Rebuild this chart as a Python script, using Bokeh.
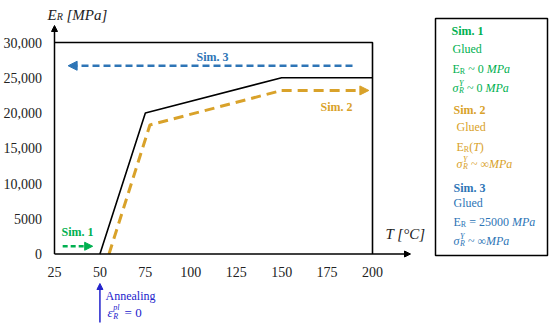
from bokeh.plotting import figure
from bokeh.models import Range1d, Arrow, NormalHead
from bokeh.embed import file_html
from bokeh.resources import INLINE
from bokeh.core.properties import value

# ---------------- data ----------------
x_ticks = [25, 50, 75, 100, 125, 150, 175, 200]
y_ticks = [0, 5000, 10000, 15000, 20000, 25000, 30000]
y_tick_labels = ["0", "5000", "10,000", "15,000", "20,000", "25,000", "30,000"]

ref_T = [50, 75, 150, 200]          # black solid E_R(T)
ref_E = [0, 20000, 25000, 25000]
box_T = [25, 200, 200]              # upper/right frame
box_E = [30000, 30000, 0]

sim2_T = [55, 77.5, 150]            # orange dashed
sim2_E = [0, 18300, 23200]
sim2_end_T = 198

sim3_T = [189, 32.5]                # blue dashed arrow (start, tip)
sim3_E = 26700
sim1_T = [29.5, 46]                 # green dashed arrow (start, tip)
sim1_E = 1100
anneal_T = 50

GREEN = "#00B050"
ORANGE = "#D9A22A"
BLUE = "#2E75B6"
ANNEAL = "#2323CC"
FONT = "Liberation Serif"

# ---------------- page-pixel -> data helpers (layout only) ----------------
SX = 318.0 / 175.0
SY = 211.5 / 30000.0
def DX(px):
    return 25 + (px - 54) / SX
def DY(py):
    return (253.5 - py) / SY

W, H = 550, 324
OX, OY = 0, 0
p = figure(width=W, height=H, x_range=Range1d(DX(OX), DX(OX + W)),
           y_range=Range1d(DY(OY + H), DY(OY)), output_backend="svg",
           toolbar_location=None, min_border=0, x_axis_type=None, y_axis_type=None)
p.outline_line_color = None
p.background_fill_color = "white"

# Times metrics (em)
W_REG = {' ': .25, '(': .333, ')': .333, ',': .25, '.': .25, '=': .564, '~': .541,
         'A': .722, 'C': .667, 'E': .611, 'G': .722, 'M': .889, 'P': .556, 'R': .667,
         'S': .556, 'T': .611, 'Y': .722, 'a': .444, 'd': .5, 'e': .444, 'g': .5,
         'i': .278, 'l': .278, 'm': .778, 'n': .5, 'p': .5, 'u': .5, '[': .333,
         ']': .333, '°': .4, '∞': .713, 'σ': .6, 'ε': .44}
W_IT = {'M': .833, 'P': .611, 'a': .5, 'T': .556, 'R': .611, 'Y': .556, '[': .389,
        ']': .389, 'σ': .55}
W_BOLD = {'S': .556, 'i': .278, 'm': .833}

def tw(s, size, style):
    extra = W_IT if style == "italic" else (W_BOLD if style == "bold" else {})
    return sum(extra.get(c, W_REG.get(c, .5)) for c in s) * size

def rich(x0, yc, segs, color):
    x = x0
    for seg in segs:
        txt, size, style = seg[0], seg[1], seg[2]
        dy = seg[3] if len(seg) > 3 else 0
        adv = seg[4] if len(seg) > 4 else True
        stripped = txt.lstrip(' ')
        lead = tw(txt[:len(txt) - len(stripped)], size, style)
        p.text(x=[DX(x + lead)], y=[DY(yc + dy)], text=[stripped.rstrip(' ')],
               text_font=value(FONT), text_font_size=f"{size}px",
               text_font_style=style, text_color=color,
               text_align="left", text_baseline="middle")
        if adv:
            x += tw(txt, size, style)

# ---------------- axes ----------------
p.add_layout(Arrow(end=NormalHead(size=6, fill_color="black", line_color="black"),
                   x_start=25, y_start=0, x_end=25, y_end=DY(25),
                   line_color="black", line_width=1.5))
p.add_layout(Arrow(end=NormalHead(size=6, fill_color="black", line_color="black"),
                   x_start=25, y_start=0, x_end=DX(410), y_end=0,
                   line_color="black", line_width=1.5))
p.text(x=x_ticks, y=[DY(271)] * len(x_ticks), text=[str(t) for t in x_ticks],
       text_font=value(FONT), text_font_size="14px", text_color="#222222",
       text_align="center", text_baseline="middle")
p.text(x=[DX(41.5)] * len(y_ticks), y=y_ticks, text=y_tick_labels,
       text_font=value(FONT), text_font_size="14px", text_color="#222222",
       text_align="right", text_baseline="middle")

rich(47, 14, [("E", 15, "italic"), ("R", 10, "italic", 2), (" [MPa]", 15, "italic")], "#222222")
rich(385, 233, [("T [°C]", 15, "italic")], "#222222")

# ---------------- curves ----------------
p.line(box_T, box_E, line_color="black", line_width=1.6)
p.line(ref_T, ref_E, line_color="black", line_width=1.6)

p.line(sim2_T, sim2_E, line_color=ORANGE, line_width=3, line_dash="10 6")
p.add_layout(Arrow(end=NormalHead(size=9, fill_color=ORANGE, line_color=ORANGE),
                   x_start=sim2_T[-1], y_start=sim2_E[-1], x_end=sim2_end_T, y_end=sim2_E[-1],
                   line_color=ORANGE, line_width=3, line_dash="10 6"))
p.add_layout(Arrow(end=NormalHead(size=9, fill_color=BLUE, line_color=BLUE),
                   x_start=sim3_T[0], y_start=sim3_E, x_end=sim3_T[1], y_end=sim3_E,
                   line_color=BLUE, line_width=2.5, line_dash="7 4"))
p.add_layout(Arrow(end=NormalHead(size=8, fill_color=GREEN, line_color=GREEN),
                   x_start=sim1_T[0], y_start=sim1_E, x_end=sim1_T[1], y_end=sim1_E,
                   line_color=GREEN, line_width=2.5, line_dash="5 3"))

rich(196, 56, [("Sim. 3", 12, "bold")], BLUE)
rich(320, 106, [("Sim. 2", 12, "bold")], ORANGE)
rich(61, 231, [("Sim. 1", 12, "bold")], GREEN)

# annealing
p.add_layout(Arrow(end=NormalHead(size=6, fill_color=ANNEAL, line_color=ANNEAL),
                   x_start=anneal_T, y_start=DY(322), x_end=anneal_T, y_end=DY(283),
                   line_color=ANNEAL, line_width=1.5))
rich(105, 295, [("Annealing", 12, "normal")], ANNEAL)
rich(107, 312, [("ε", 13, "italic"), ("pl", 8, "italic", -5, False), ("R", 8, "italic", 4),
                ("  = 0", 13, "normal")], ANNEAL)

# ---------------- legend box ----------------
p.quad(left=DX(435), right=DX(547), top=DY(18), bottom=DY(255),
       fill_color="white", line_color="black", line_width=1.5)

sigma_Y = [("σ", 12, "italic"), ("Y", 8, "italic", -4, False), ("R", 8, "italic", 3)]
E_R = [("E", 12, "normal"), ("R", 8, "normal", 3)]

rich(451, 30, [("Sim. 1", 12, "bold")], GREEN)
rich(452, 48, [("Glued", 12, "normal")], GREEN)
rich(452, 68, E_R + [(" ~ 0 ", 12, "normal"), ("MPa", 12, "italic")], GREEN)
rich(452, 87, sigma_Y + [(" ~ 0 ", 12, "normal"), ("MPa", 12, "italic")], GREEN)

rich(453, 109, [("Sim. 2", 12, "bold")], ORANGE)
rich(456, 126, [("Glued", 12, "normal")], ORANGE)
rich(456, 146, E_R + [("(", 12, "normal"), ("T", 12, "italic"), (")", 12, "normal")], ORANGE)
rich(456, 163, sigma_Y + [(" ~ ∞", 12, "normal"), ("MPa", 12, "italic")], ORANGE)

rich(453, 187, [("Sim. 3", 12, "bold")], BLUE)
rich(453, 202, [("Glued", 12, "normal")], BLUE)
rich(453, 221, E_R + [(" = 25000 ", 12, "normal"), ("MPa", 12, "italic")], BLUE)
rich(453, 240, sigma_Y + [(" ~ ∞", 12, "normal"), ("MPa", 12, "italic")], BLUE)

open("out.html", "w").write(file_html(p, INLINE))
